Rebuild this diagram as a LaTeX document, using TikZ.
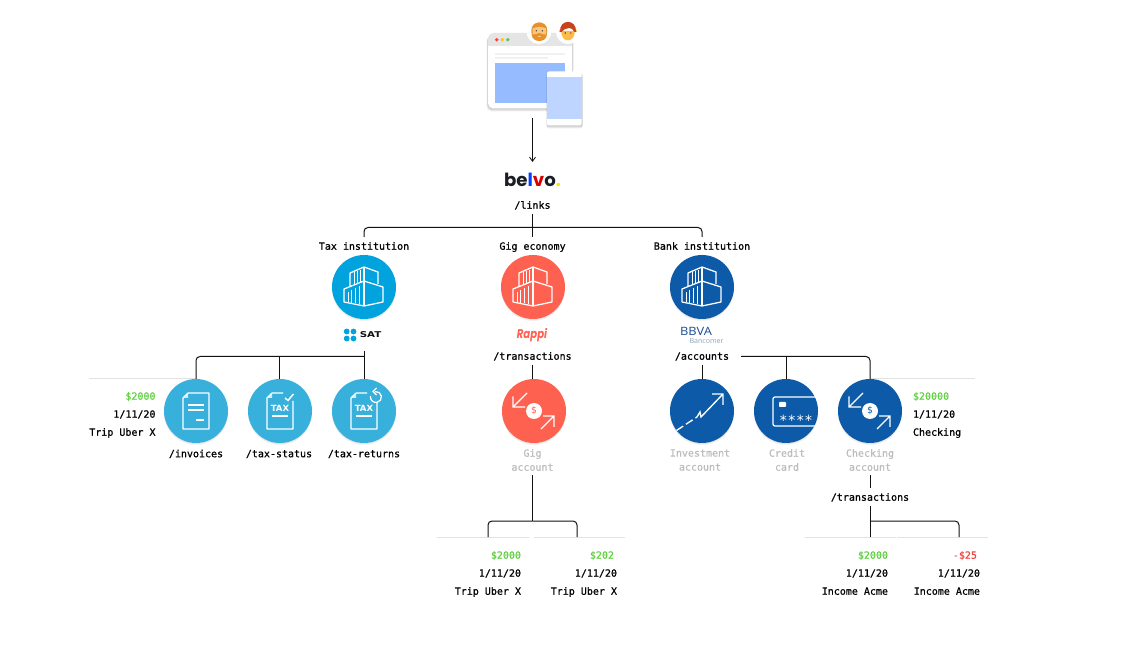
\documentclass[tikz,border=0pt]{standalone}
\usepackage{fontspec}
\usetikzlibrary{arrows.meta}
\newfontfamily\monof[RawFeature={embolden=0.7}]{DejaVu Sans Mono}
\newfontfamily\logof{Poppins}
\newfontfamily\bbvaf{Open Sans}
\definecolor{ink}{HTML}{111111}
\definecolor{logodark}{HTML}{1A1D24}
\definecolor{hair}{HTML}{E2E2E2}
\definecolor{mutedt}{HTML}{BDBDBD}
\definecolor{moneyg}{HTML}{5FD13F}
\definecolor{moneyr}{HTML}{F04444}
\definecolor{taxblue}{HTML}{00A3DE}
\definecolor{lightblue}{HTML}{38B0DC}
\definecolor{coral}{HTML}{FF6150}
\definecolor{bank}{HTML}{0D5BA8}
\definecolor{bbvablue}{HTML}{1A4C94}
\definecolor{bancogray}{HTML}{8FA3B8}
\definecolor{winblue}{HTML}{96BCFF}
\definecolor{phoneblue}{HTML}{BDD5FF}
\definecolor{bargray}{HTML}{E5E5E5}
\definecolor{linegray}{HTML}{F1F1F1}
\definecolor{hairA}{HTML}{E8912C}
\definecolor{skinA}{HTML}{FBC77E}
\definecolor{hairB}{HTML}{C8431C}
\definecolor{skinB}{HTML}{FDBB4A}
\tikzset{
  x=0.75pt,y=-0.75pt,
  conn/.style={draw=ink,line width=0.75pt},
  round/.style={conn,rounded corners=3pt},
  hairl/.style={draw=hair,line width=0.75pt},
  lbl/.style={font=\monof\fontsize{7.5pt}{10.5pt}\selectfont,text=black,inner sep=0pt,outer sep=0pt,text height=5.6pt,text depth=0pt,minimum height=13.5pt},
  lbltwo/.style={font=\monof\fontsize{7.5pt}{10.5pt}\selectfont,text=mutedt,inner sep=0pt,outer sep=0pt,align=center,minimum height=22.5pt},
  valr/.style={lbl,anchor=east},
  vall/.style={lbl,anchor=west},
  disc/.style={circle,inner sep=0pt,outer sep=0pt,minimum size=48pt,
    preaction={draw=none,fill=black,fill opacity=.05,transform canvas={yshift=-1.5pt},circle},
    preaction={draw=none,fill=black,fill opacity=.05,transform canvas={yshift=-0.7pt},circle}},
  ico/.style={draw=white,line width=0.95pt,line join=round},
  icothin/.style={draw=white,line width=0.85pt},
  softshadow/.style={fill=black,fill opacity=.07,draw=none},
}
\newcommand{\buildingicon}[1]{%
  \begin{scope}[shift={(#1)},ico]
    \draw (0,-6) -- (-20,2) -- (-20,15) -- (0,19) -- (19,15) -- (19,0) -- cycle;
    \draw (0,-6) -- (0,19);
    \draw (-14,-1) -- (-14,-14) -- (0,-20) -- (14,-15) -- (14,-3);
    \draw (0,-20) -- (0,-6);
    \draw[line width=.75pt] (-16,15) -- (-16,5) (-12.5,16) -- (-12.5,3) (-9,16.5) -- (-9,1) (-5,17.5) -- (-5,-1);
    \draw[line width=.75pt] (-10,-3) -- (-10,-14.5) (-7,-4) -- (-7,-16) (-4,-5) -- (-4,-17);
  \end{scope}}
\newcommand{\transfericon}[2]{%
  \begin{scope}[shift={(#1)}]
    \draw[icothin] (-7,-18) -- (-21,-4) (-21,-14.5) -- (-21,-4) -- (-9,-4);
    \draw[icothin] (7,18) -- (20,5) (9,5) -- (20,5) -- (20,16);
    \fill[white] (0,0) circle[radius=8];
    \node[font=\fontspec{DejaVu Sans Mono}\fontsize{7pt}{7pt}\selectfont,text=#2,inner sep=0pt] at (0,0) {\$};
  \end{scope}}
\begin{document}
\begin{tikzpicture}
\useasboundingbox (0,0) rectangle (1129,659);
\fill[white] (0,0) rectangle (1129,659);

% browser illustration
\node[inner sep=0pt,outer sep=0pt,minimum width=60pt,minimum height=64.5pt] (browser) at (532.5,75) {};
\foreach \d in {1,2,3}{\fill[softshadow,rounded corners=4pt] ({488-\d/2},{33+\d}) rectangle ({572+\d/2},{108.5+\d});}
\fill[white,rounded corners=4pt] (488,33) rectangle (572,108.5);
\fill[bargray,rounded corners=4pt] (488,46) -- (488,33) -- (572,33) [sharp corners] -- (572,46) -- cycle;
\fill[white] (539,31.5) circle[radius=12.5];
\fill[white] (568.3,31.5) circle[radius=12.5];
\fill[red!75!white] (496.7,39.7) circle[radius=1.9];
\fill[yellow!60!orange] (502.2,39.7) circle[radius=1.9];
\fill[green!60!black!60!white] (507.8,39.7) circle[radius=1.9];
\fill[linegray] (495,53.3) rectangle (565,55.3);
\fill[linegray] (495,57) rectangle (547.5,59);
\fill[winblue] (495,63.3) rectangle (565,103.3);
\foreach \d in {1,2,3}{\fill[softshadow,rounded corners=1.5pt] (546.5,{71.5+\d}) rectangle (582.5,{125.5+\d});}
\fill[white,rounded corners=1.5pt] (547,71.5) rectangle (581.5,125.5);
\fill[phoneblue] (547,77.5) rectangle (581.5,119);
% left face
\begin{scope}[shift={(539.3,32)}]
  \fill[hairA] (-8,-1) .. controls (-8.5,-12.5) and (8.5,-12.5) .. (8,-1) -- (7.5,3) .. controls (7,11) and (-7,11) .. (-7.5,3) -- cycle;
  \fill[skinA] (-6.8,-3.5) .. controls (-2,-5.5) and (2,-5.5) .. (6.8,-3.5) -- (6.8,2.5) -- (2.8,1.8) -- (0,0.8) -- (-2.8,1.8) -- (-6.8,2.5) -- cycle;
  \fill[black!70] (-3,-1.2) circle[radius=.8] (3,-1.2) circle[radius=.8];
  \fill[skinA] (-1.8,4) rectangle (1.8,5);
\end{scope}
% right face
\begin{scope}[shift={(568,33)}]
  \fill[skinB] (-8,-2) circle[radius=1.4] (8,-2) circle[radius=1.4];
  \fill[skinB] (-6.8,-2) .. controls (-7,10.5) and (7,10.5) .. (6.8,-2) -- cycle;
  \fill[hairB] (-8,-1) .. controls (-9,-14.5) and (9,-14.5) .. (8,-1) -- (6.5,-1) .. controls (5,-4) and (3,-5) .. (1,-5) .. controls (-2,-4) and (-5,-4) .. (-6.5,-1) -- cycle;
  \fill[black!70] (-2.8,0) circle[radius=.8] (2.8,0) circle[radius=.8];
\end{scope}

% logos and labels
\node[inner sep=0pt,outer sep=0pt,minimum width=50pt,minimum height=27pt,font=\logof\bfseries\fontsize{13.6pt}{14pt}\selectfont] (belvo) at (532.5,180) {\textcolor{logodark}{be}\textcolor{blue!75!cyan}{l}\textcolor{red!85!black}{v}\textcolor{logodark}{o}\textcolor{yellow!85!orange}{.}};
\node[lbl] (links) at (532.5,205) {/links};
\node[lbl] (taxl) at (364,246) {Tax institution};
\node[lbl] (gigl) at (532.5,246) {Gig economy};
\node[lbl] (bankl) at (702,246) {Bank institution};

% first row of discs
\node[disc,fill=taxblue] (tax) at (364,287) {};
\node[disc,fill=coral] (gig) at (533,287) {};
\node[disc,fill=bank] (bankd) at (702,287) {};
\buildingicon{tax}
\buildingicon{gig}
\buildingicon{bankd}

% institution logos
\node[inner sep=0pt,outer sep=0pt,minimum width=30pt,minimum height=24pt] (sat) at (364,335) {};
\fill[taxblue] (346.7,331.5) circle[radius=2.9] (353.5,331.5) circle[radius=2.9] (346.7,338.5) circle[radius=2.9] (353.5,338.5) circle[radius=2.9];
\node[inner sep=0pt,font=\fontspec{DejaVu Sans Bold}\fontsize{6pt}{6pt}\selectfont,xscale=1.28,text=ink] (satname) at (370.5,335) {SAT};
\node[inner sep=0pt,font=\logof\bfseries\itshape\fontsize{7.6pt}{8pt}\selectfont,yscale=1.25,text=coral] (rappi) at (532,335) {Rappi};
\node[inner sep=0pt,font=\bbvaf\fontsize{8.6pt}{9pt}\selectfont,xscale=1.12,text=bbvablue] (bbva) at (696,331.5) {BBVA};
\node[inner sep=0pt,font=\bbvaf\fontsize{5.3pt}{6pt}\selectfont,text=bancogray] (bancomer) at (706.5,341) {Bancomer};

\node[lbl] (txg) at (532.5,356) {/transactions};
\node[lbl] (acc) at (702,356) {/accounts};

% second row of discs
\node[disc,fill=lightblue] (inv) at (196,411) {};
\node[disc,fill=lightblue] (tstat) at (280,411) {};
\node[disc,fill=lightblue] (tret) at (364,411) {};
\node[disc,fill=coral] (gacc) at (534,411) {};
\node[disc,fill=bank] (invest) at (702,411) {};
\node[disc,fill=bank] (credit) at (786,411) {};
\node[disc,fill=bank] (check) at (870,411) {};

% invoices icon
\begin{scope}[shift={(inv)}]
  \draw[ico] (-8,-18) -- (13,-18) -- (13,18) -- (-13,18) -- (-13,-13) -- cycle;
  \fill[white,opacity=.75] (-8,-18) -- (-8,-13) -- (-13,-13) -- cycle;
  \draw[ico] (-8,-6) -- (8,-6) (-8,-1) -- (8,-1) (0,9) -- (8,9);
\end{scope}
% tax status icon
\begin{scope}[shift={(tstat)}]
  \draw[ico] (-8,-18) -- (3,-18) (13,-10) -- (13,18) -- (-13,18) -- (-13,-13) -- (-8,-18);
  \fill[white,opacity=.75] (-8,-18) -- (-8,-13) -- (-13,-13) -- cycle;
  \node[font=\fontspec{DejaVu Sans Bold}\fontsize{6.4pt}{7pt}\selectfont,text=white,inner sep=0pt] (tstatx) at (0,-2.5) {TAX};
  \draw[ico] (-8,5) -- (8,5);
  \draw[draw=white,line width=1.1pt] (5,-13) -- (8,-10.5) -- (13.5,-17);
\end{scope}
% tax returns icon
\begin{scope}[shift={(tret)}]
  \draw[ico] (-8,-18) -- (3,-18) (13,-8) -- (13,18) -- (-13,18) -- (-13,-13) -- (-8,-18);
  \fill[white,opacity=.75] (-8,-18) -- (-8,-13) -- (-13,-13) -- cycle;
  \node[font=\fontspec{DejaVu Sans Bold}\fontsize{6.4pt}{7pt}\selectfont,text=white,inner sep=0pt] (tretx) at (0,-2.5) {TAX};
  \draw[ico] (-8,5) -- (8,5);
  \draw[draw=white,line width=.95pt] (11,-19.4) arc[start angle=-100,end angle=190,radius=5.5];
  \draw[draw=white,line width=.95pt] (12.5,-23) -- (9,-19.5) -- (12.5,-16);
\end{scope}
\transfericon{gacc}{coral}
\transfericon{check}{bank}
% investment icon
\begin{scope}[shift={(invest)}]
  \draw[draw=white,line width=1pt,dash pattern=on 6pt off 2.5pt] (-25.5,19.5) -- (-5,6);
  \draw[draw=white,line width=1pt] (-5,6) -- (-2,1) -- (-1,6) -- (21,-17) (10,-17) -- (21,-17) -- (21,-6);
\end{scope}
% credit card icon
\begin{scope}[shift={(credit)}]
  \draw[ico,rounded corners=1.5pt] (31,-14) -- (-13,-14) -- (-13,15) -- (31,15);
  \fill[white,rounded corners=.7pt] (-7,-9) rectangle (0,-4);
  \node[font=\fontspec{DejaVu Sans Mono}\fontsize{10.5pt}{11pt}\selectfont,text=white,inner sep=0pt] (stars) at (10,9) {****};
\end{scope}

% labels of the second row
\node[lbl] (invl) at (196,453.5) {/invoices};
\node[lbl] (tstatl) at (279,453.5) {/tax-status};
\node[lbl] (tretl) at (364,453.5) {/tax-returns};
\node[lbltwo] (gacl) at (532.5,460) {Gig\\account};
\node[lbltwo] (investl) at (700,460) {Investment\\account};
\node[lbltwo] (creditl) at (787,460) {Credit\\card};
\node[lbltwo] (checkl) at (870,460) {Checking\\account};
\node[lbl] (txc) at (870,497) {/transactions};

% values
\node[valr,text=moneyg] (v1) at (155.5,396) {\$2000};
\node[valr] (v2) at (155.5,414) {1/11/20};
\node[valr] (v3) at (155.5,432) {Trip Uber X};
\node[vall,text=moneyg] (v4) at (913,396) {\$20000};
\node[vall] (v5) at (913,414) {1/11/20};
\node[vall] (v6) at (913,432) {Checking};
\node[valr,text=moneyg] (v7) at (521,555) {\$2000};
\node[valr] (v8) at (521,573) {1/11/20};
\node[valr] (v9) at (521,591) {Trip Uber X};
\node[valr,text=moneyg] (v10) at (614,555) {\$202};
\node[valr] (v11) at (617,573) {1/11/20};
\node[valr] (v12) at (617,591) {Trip Uber X};
\node[valr,text=moneyg] (v13) at (888,555) {\$2000};
\node[valr] (v14) at (888,573) {1/11/20};
\node[valr] (v15) at (888,591) {Income Acme};
\node[valr,text=moneyr] (v16) at (977,555) {-\$25};
\node[valr] (v17) at (980,573) {1/11/20};
\node[valr] (v18) at (980,591) {Income Acme};

% named junctions and free ends
\coordinate (jlinks) at (532.5,227.5);
\coordinate (jsat) at (364,356.5);
\coordinate (jstat) at (279,356.5);
\coordinate (acc0) at (741,356.5);
\coordinate (jcred) at (786.5,356.5);
\coordinate (jgig) at (532.5,521);
\coordinate (fgl) at (488,537);
\coordinate (fgr) at (577,537);
\coordinate (jchk) at (870,521);
\coordinate (fcb) at (870,537);
\coordinate (fcr) at (959,537);
\coordinate (hl1) at (89,378.5);
\coordinate (hl2) at (975,378.5);
\coordinate (hg1a) at (437,537.5);
\coordinate (hg1b) at (529,537.5);
\coordinate (hg2a) at (534,537.5);
\coordinate (hg2b) at (625,537.5);
\coordinate (hc1a) at (805,537.5);
\coordinate (hc1b) at (896,537.5);
\coordinate (hc2a) at (897,537.5);
\coordinate (hc2b) at (988,537.5);

% hairlines
\draw[hairl] (hl1) -- (hl1 -| inv.north);
\draw[hairl] (hl2 -| check.north) -- (hl2);
\draw[hairl] (hg1a) -- (hg1b);
\draw[hairl] (hg2a) -- (hg2b);
\draw[hairl] (hc1a) -- (hc1b);
\draw[hairl] (hc2a) -- (hc2b);

% connectors
\draw[conn,-{Straight Barb[length=3.2pt,width=4.5pt,line width=.6pt]}] (browser.south) -- (belvo.north);
\draw[conn] (links.south) -- (gigl.north);
\draw[round] (taxl.north) |- (jlinks);
\draw[round] (bankl.north) |- (jlinks);
\draw[conn] (sat.south) -- (tret.north);
\draw[round] (inv.north) |- (jsat);
\draw[conn] (jstat) -- (jstat |- tstat.north);
\draw[conn] (txg.south) -- (txg.south |- gacc.north);
\draw[conn] (acc.south) -- (invest.north);
\draw[round] (acc0) -| (check.north);
\draw[conn] (jcred) -- (jcred |- credit.north);
\draw[conn] (checkl.south) -- (txc.north);
\draw[conn] (gacl.south) -- (jgig);
\draw[round] (fgl) |- (jgig);
\draw[round] (fgr) |- (jgig);
\draw[conn] (txc.south) -- (fcb);
\draw[round] (jchk) -| (fcr);
\end{tikzpicture}
\end{document}
